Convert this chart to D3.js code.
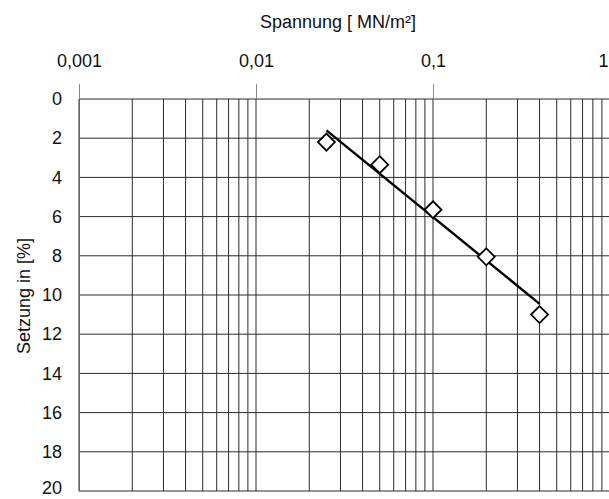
<!DOCTYPE html>
<html>
<head>
<meta charset="utf-8">
<script src="https://cdn.jsdelivr.net/npm/d3@7"></script>
<style>
  body { margin: 0; background: #fff; }
  text { font-family: "Liberation Sans", Arial, sans-serif; fill: #111; }
</style>
</head>
<body>
<svg id="chart" width="609" height="499"></svg>
<script>
// measured points (stress MN/m², settlement %)
var spannung = [0.025, 0.05, 0.1, 0.2, 0.4];
var setzung = [2.2, 3.35, 5.65, 8.05, 11.0];
// fitted line end points
var fitX = [0.025, 0.4];
var fitY = [1.6, 10.45];
var xTicks = [0.001, 0.01, 0.1, 1];
var xTickLabels = ["0,001", "0,01", "0,1", "1"];
var yTicks = [0, 2, 4, 6, 8, 10, 12, 14, 16, 18, 20];

var margin = {top: 99, left: 79},
  width = 531,
  height = 392;

var svg = d3.select("#chart")
  .append("g")
  .attr("transform", "translate(" + margin.left + "," + margin.top + ")");

var x = d3.scaleLog()
  .domain([0.001, 1])
  .range([0, width]);

var y = d3.scaleLinear()
  .domain([0, 20])
  .range([0, height]);

// vertical grid, minor + major
var minor = [];
[0.001, 0.01, 0.1].forEach(function(d) {
  for (var i = 1; i <= 9; i++) minor.push(d * i);
});
minor.push(1);

svg.append("g")
  .selectAll("line")
  .data(minor)
  .enter().append("line")
  .attr("x1", function(d) { return x(d); })
  .attr("x2", function(d) { return x(d); })
  .attr("y1", 0)
  .attr("y2", height)
  .attr("stroke", "#2a2a2a")
  .attr("stroke-width", 1);

// horizontal grid
svg.append("g")
  .selectAll("line")
  .data(yTicks)
  .enter().append("line")
  .attr("x1", 0)
  .attr("x2", width)
  .attr("y1", function(d) { return y(d); })
  .attr("y2", function(d) { return y(d); })
  .attr("stroke", "#2a2a2a")
  .attr("stroke-width", 1);

// top axis
var xAxis = svg.append("g")
  .call(d3.axisTop(x).tickValues(xTicks)
    .tickFormat(function(d, i) { return xTickLabels[i]; })
    .tickSize(15).tickPadding(17));
xAxis.select(".domain").remove();
xAxis.selectAll("line").attr("stroke", "#888");
xAxis.selectAll("text")
  .style("font-size", "18px")
  .style("font-family", "Liberation Sans, Arial, sans-serif")
  .attr("fill", "#111");
// last label sits at the window edge
xAxis.selectAll(".tick").filter(function(d) { return d === 1; })
  .select("text").attr("text-anchor", "end").attr("dx", -2);

// left axis
var yAxis = svg.append("g")
  .call(d3.axisLeft(y).tickValues(yTicks).tickSize(0).tickPadding(17));
yAxis.select(".domain").attr("stroke", "#666");
yAxis.selectAll("text")
  .style("font-size", "18px")
  .style("font-family", "Liberation Sans, Arial, sans-serif")
  .attr("fill", "#111");
// keep the bottom label inside the window
yAxis.selectAll(".tick").filter(function(d) { return d === 20; })
  .select("text").attr("dy", "0.12em");

// axis titles
svg.append("text")
  .attr("x", 259)
  .attr("y", -71)
  .attr("text-anchor", "middle")
  .style("font-size", "18px")
  .text("Spannung [ MN/m²]");

svg.append("text")
  .attr("transform", "translate(-49,197) rotate(-90)")
  .attr("text-anchor", "middle")
  .style("font-size", "18px")
  .text("Setzung in [%]");

// fit line
svg.append("line")
  .attr("x1", x(fitX[0]))
  .attr("y1", y(fitY[0]))
  .attr("x2", x(fitX[1]))
  .attr("y2", y(fitY[1]))
  .attr("stroke", "#000")
  .attr("stroke-width", 2.4);

// diamonds
svg.append("g")
  .selectAll("path")
  .data(spannung)
  .enter().append("path")
  .attr("transform", function(d, i) { return "translate(" + x(d) + "," + y(setzung[i]) + ")"; })
  .attr("d", "M0,-8.5L8.5,0L0,8.5L-8.5,0Z")
  .attr("fill", "#fff")
  .attr("stroke", "#000")
  .attr("stroke-width", 1.8);
</script>
</body>
</html>
